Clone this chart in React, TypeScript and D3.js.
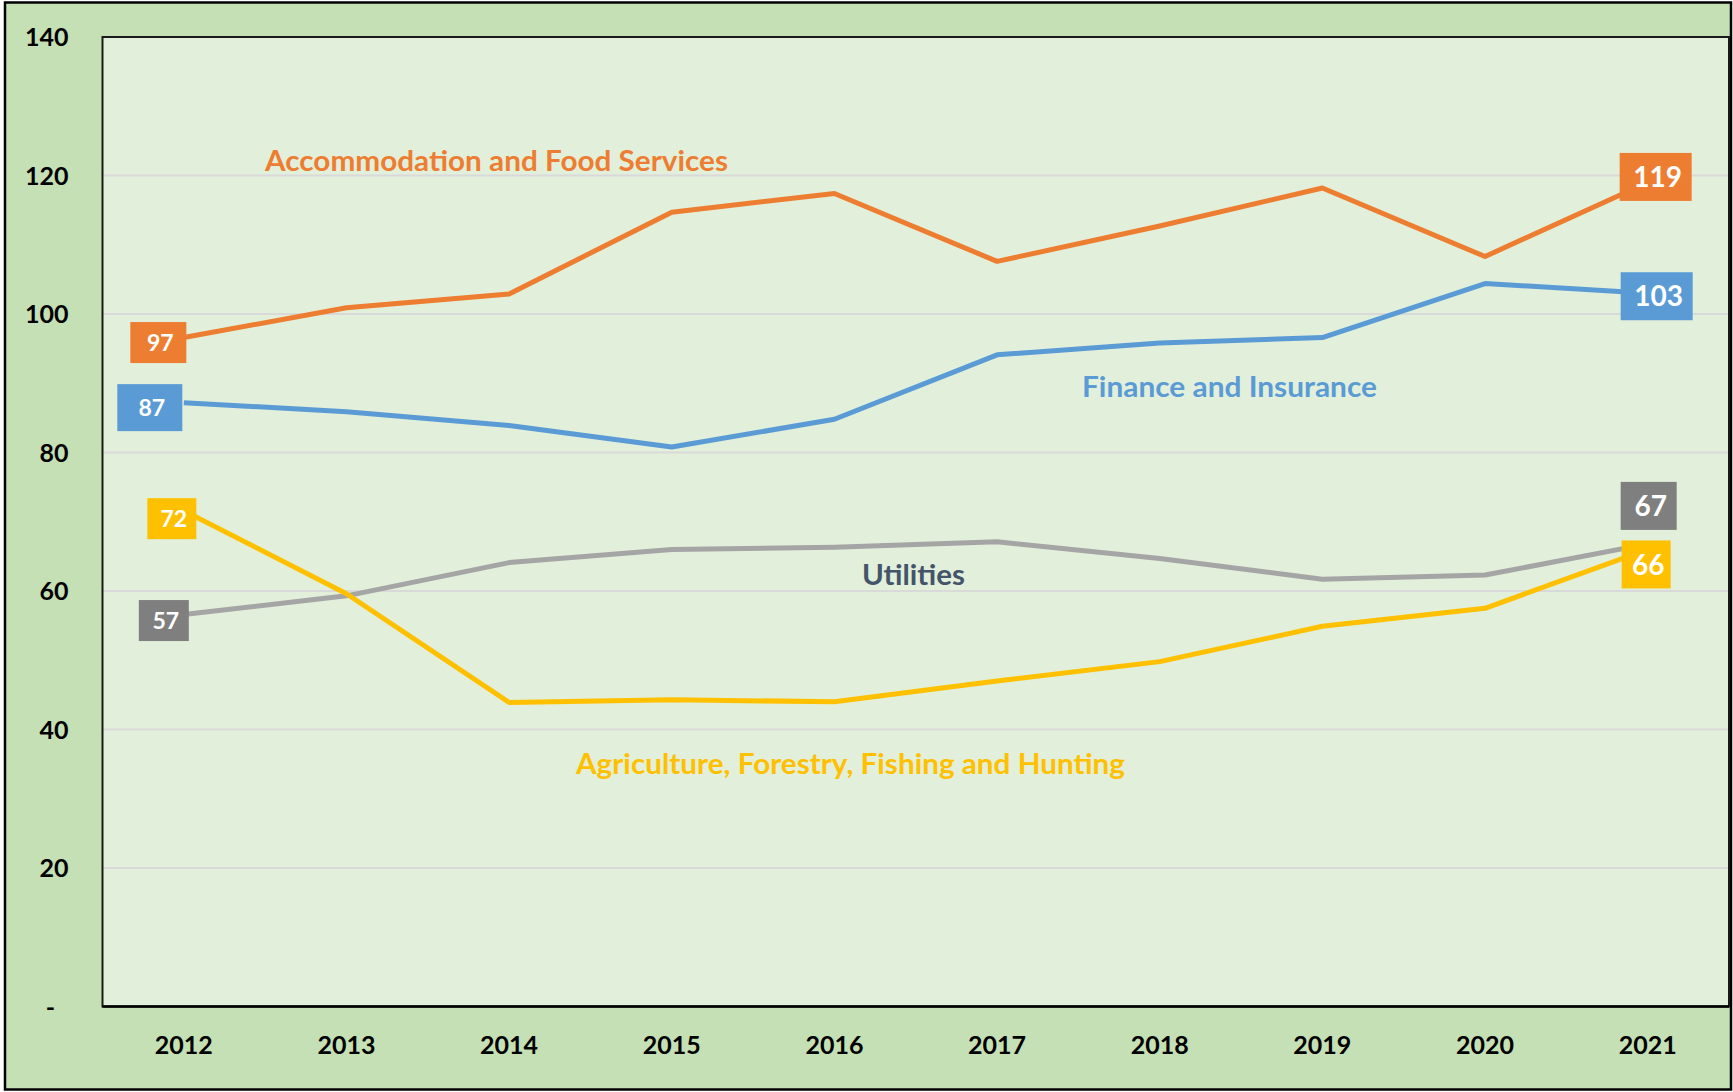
import React from "react";
import * as d3 from "d3";

const years = ["2012","2013","2014","2015","2016","2017","2018","2019","2020","2021"];
const accommodation = [96.6, 100.9, 102.9, 114.7, 117.4, 107.6, 112.7, 118.2, 108.3, 119.0];
const finance = [87.2, 85.9, 83.9, 80.8, 84.8, 94.1, 95.8, 96.6, 104.4, 103.0];
const utilities = [56.6, 59.3, 64.1, 66.0, 66.3, 67.1, 64.7, 61.7, 62.3, 66.8];
const agriculture = [71.6, 59.6, 43.9, 44.3, 44.0, 47.0, 49.8, 54.9, 57.5, 66.0];
const yTicks = [0, 20, 40, 60, 80, 100, 120, 140];

const W = 1733, H = 1092;
const plot = { left: 102.5, top: 37, right: 1729, bottom: 1006.5 };

type Lbl = { i: number; dx: number; dy: number; w: number; h: number; fs: number };
const seriesDefs = [
  { name: "Accommodation and Food Services", values: accommodation, color: "#ED7D31", boxColor: "#ED7D31",
    nameX: 496.5, nameY: 161, nameW: 463,
    labels: [ { i: 0, dx: -25.5, dy: 5, w: 56, h: 41, fs: 23 }, { i: 9, dx: 8, dy: -5.5, w: 72, h: 48, fs: 28 } ] as Lbl[] },
  { name: "Finance and Insurance", values: finance, color: "#5B9BD5", boxColor: "#5B9BD5",
    nameX: 1229.5, nameY: 387, nameW: 295,
    labels: [ { i: 0, dx: -34, dy: 5, w: 65, h: 47, fs: 23 }, { i: 9, dx: 9, dy: 3, w: 72, h: 48, fs: 28 } ] as Lbl[] },
  { name: "Utilities", values: utilities, color: "#A5A5A5", boxColor: "#7F7F7F",
    nameX: 913.5, nameY: 575, nameW: 103, nameColor: "#44546A",
    labels: [ { i: 0, dx: -20, dy: 6, w: 50, h: 41, fs: 23 }, { i: 9, dx: 1, dy: -38, w: 56, h: 48, fs: 28 } ] as Lbl[] },
  { name: "Agriculture, Forestry, Fishing and Hunting", values: agriculture, color: "#FFC000", boxColor: "#FFC000",
    nameX: 850.5, nameY: 764, nameW: 549,
    labels: [ { i: 0, dx: -12, dy: 8, w: 49, h: 41, fs: 23 }, { i: 9, dx: -1.5, dy: 15, w: 49, h: 48, fs: 28 } ] as Lbl[] },
];

const FONT = "Lato, 'Open Sans', sans-serif";

export default function App() {
  const x = d3.scaleBand<string>().domain(years).range([plot.left, plot.right]).paddingInner(0).paddingOuter(0);
  const xc = (i: number) => (x(years[i]) as number) + x.bandwidth() / 2;
  const y = d3.scaleLinear().domain([0, 140]).range([plot.bottom, plot.top]);
  const line = d3.line<number>().x((_, i) => xc(i)).y((d) => y(d));

  return (
    <svg width={W} height={H} style={{ position: "absolute", left: 0, top: 0 }} fontFamily={FONT}>
      <rect x={0} y={0} width={W} height={H} fill="#ffffff" />
      <rect x={5} y={2.5} width={1726} height={1087} fill="#C5E0B4" stroke="#000" strokeWidth={2.5} />
      <rect x={plot.left} y={plot.top} width={plot.right - plot.left} height={plot.bottom - plot.top} fill="#E2EFDA" />
      {yTicks.filter((t) => t > 0 && t < 140).map((t) => (
        <line key={t} x1={plot.left} x2={plot.right} y1={y(t)} y2={y(t)} stroke="#D9D9D9" strokeWidth={2} />
      ))}
      <rect x={plot.left} y={plot.top} width={plot.right - plot.left} height={plot.bottom - plot.top} fill="none" stroke="#1a1a1a" strokeWidth={2} />
      <line x1={plot.left} x2={plot.right} y1={plot.bottom} y2={plot.bottom} stroke="#000" strokeWidth={2.5} />
      {yTicks.map((t) => (
        <text key={t} x={t === 0 ? 55 : 68.5} y={y(t)} dy="0.36em" textAnchor="end" fontSize={25} fontWeight={700} fill="#000">
          {t === 0 ? "-" : t}
        </text>
      ))}
      {years.map((yr, i) => (
        <text key={yr} x={xc(i)} y={1044.5} dy="0.36em" textAnchor="middle" fontSize={25} fontWeight={700} fill="#000">
          {yr}
        </text>
      ))}
      {seriesDefs.map((s) => (
        <path key={s.name} d={line(s.values) as string} fill="none" stroke={s.color} strokeWidth={5} strokeLinejoin="round" />
      ))}
      {seriesDefs.map((s) =>
        s.labels.map((l) => {
          const cx = xc(l.i) + l.dx;
          const cy = y(s.values[l.i]) + l.dy;
          return (
            <g key={s.name + l.i}>
              <rect x={cx - l.w / 2} y={cy - l.h / 2} width={l.w} height={l.h} fill={s.boxColor} />
              <text x={cx + 2} y={cy} dy="0.36em" textAnchor="middle" fontSize={l.fs} fontWeight={700} fill="#fff">
                {Math.round(s.values[l.i])}
              </text>
            </g>
          );
        })
      )}
      {seriesDefs.map((s) => (
        <text key={s.name + "n"} x={s.nameX} y={s.nameY} dy="0.36em" textAnchor="middle" fontSize={28} fontWeight={700}
          textLength={s.nameW} lengthAdjust="spacingAndGlyphs"
          fill={(s as any).nameColor || s.color}>
          {s.name}
        </text>
      ))}
    </svg>
  );
}
